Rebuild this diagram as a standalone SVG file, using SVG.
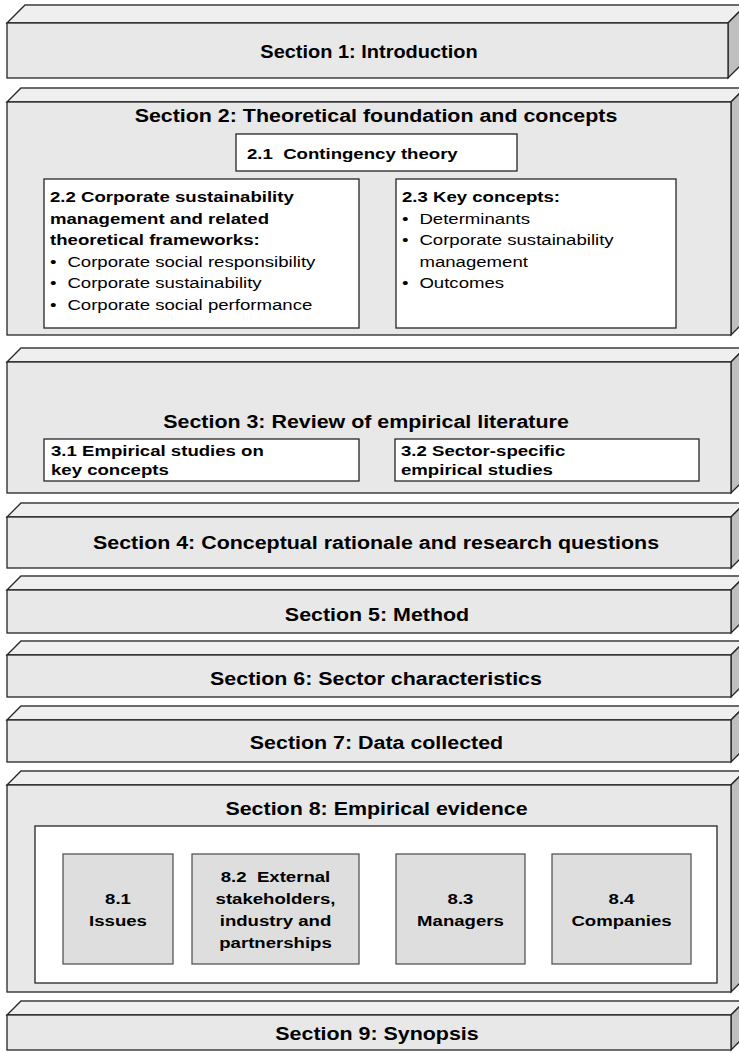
<svg xmlns="http://www.w3.org/2000/svg" width="739" height="1053" viewBox="0 0 739 1053">
<style>
.front{fill:#e8e8e8;stroke:#262626;stroke-width:1.3}
.top{fill:#efefef;stroke:#262626;stroke-width:1.3;stroke-linejoin:miter}
.side{fill:#bfbfbf;stroke:#262626;stroke-width:1.3}
.back{fill:none;stroke:#6a6a6a;stroke-width:2}
.wbox{fill:#ffffff;stroke:#262626;stroke-width:1.3}
.gbox{fill:#dedede;stroke:#4a4a4a;stroke-width:1.2}
text{font-family:"Liberation Sans",Arial,sans-serif;fill:#000}
.title{font-size:18px;font-weight:bold;text-anchor:middle}
.sub{font-size:15.5px;font-weight:bold}
.reg{font-size:15.5px;font-weight:normal}
.subc{font-size:15.5px;font-weight:bold;text-anchor:middle}
</style>
<rect width="739" height="1053" fill="#ffffff"/>

<g id="section1">
<polygon class="top" points="7,23 25,5 746,5 728,23"/>
<line class="back" x1="25" y1="5" x2="746" y2="5"/>
<polygon class="side" points="728,23 746,5 746,60 728,78"/>
<rect class="front" x="7" y="23" width="721" height="55"/>
<text class="title" transform="translate(369 57.5) scale(1.11 1)">Section 1: Introduction</text>
</g>

<g id="section2">
<polygon class="top" points="7,102 21,88 745,88 731,102"/>
<line class="back" x1="21" y1="88" x2="745" y2="88"/>
<polygon class="side" points="731,102 745,88 745,321 731,335"/>
<rect class="front" x="7" y="102" width="724" height="233"/>
<text class="title" transform="translate(376 121.5) scale(1.19 1)">Section 2: Theoretical foundation and concepts</text>
</g>

<g id="box2-1">
<rect class="wbox" x="236" y="134" width="281" height="37"/>
<text class="sub" transform="translate(247 158.5) scale(1.2 1)" xml:space="preserve">2.1  Contingency theory</text>
</g>

<g id="box2-2">
<rect class="wbox" x="44" y="179" width="315" height="149"/>
<g transform="translate(50 0)">
<text class="sub" transform="translate(0 202) scale(1.2 1)">2.2 Corporate sustainability</text>
<text class="sub" transform="translate(0 223.5) scale(1.2 1)">management and related</text>
<text class="sub" transform="translate(0 245) scale(1.2 1)">theoretical frameworks:</text>
<text class="reg" transform="translate(0 266.5) scale(1.2 1)"><tspan x="0">•</tspan><tspan x="14.5">Corporate social responsibility</tspan></text>
<text class="reg" transform="translate(0 288) scale(1.2 1)"><tspan x="0">•</tspan><tspan x="14.5">Corporate sustainability</tspan></text>
<text class="reg" transform="translate(0 309.5) scale(1.2 1)"><tspan x="0">•</tspan><tspan x="14.5">Corporate social performance</tspan></text>
</g>
</g>

<g id="box2-3">
<rect class="wbox" x="396" y="179" width="280" height="149"/>
<g transform="translate(402 0)">
<text class="sub" transform="translate(0 202) scale(1.2 1)">2.3 Key concepts:</text>
<text class="reg" transform="translate(0 223.5) scale(1.2 1)"><tspan x="0">•</tspan><tspan x="14.5">Determinants</tspan></text>
<text class="reg" transform="translate(0 245) scale(1.2 1)"><tspan x="0">•</tspan><tspan x="14.5">Corporate sustainability</tspan></text>
<text class="reg" transform="translate(0 266.5) scale(1.2 1)"><tspan x="14.5">management</tspan></text>
<text class="reg" transform="translate(0 288) scale(1.2 1)"><tspan x="0">•</tspan><tspan x="14.5">Outcomes</tspan></text>
</g>
</g>

<g id="section3">
<polygon class="top" points="7,362 21,348 745,348 731,362"/>
<line class="back" x1="21" y1="348" x2="745" y2="348"/>
<polygon class="side" points="731,362 745,348 745,479 731,493"/>
<rect class="front" x="7" y="362" width="724" height="131"/>
<text class="title" transform="translate(366 427.5) scale(1.19 1)">Section 3: Review of empirical literature</text>
</g>

<g id="box3-1">
<rect class="wbox" x="44" y="439" width="315" height="42"/>
<text class="sub" transform="translate(51 455.5) scale(1.2 1)">3.1 Empirical studies on</text>
<text class="sub" transform="translate(51 474.5) scale(1.2 1)">key concepts</text>
</g>

<g id="box3-2">
<rect class="wbox" x="395" y="439" width="304" height="42"/>
<text class="sub" transform="translate(401 455.5) scale(1.2 1)">3.2 Sector-specific</text>
<text class="sub" transform="translate(401 474.5) scale(1.2 1)">empirical studies</text>
</g>

<g id="section4">
<polygon class="top" points="7,517 21,503 745,503 731,517"/>
<line class="back" x1="21" y1="503" x2="745" y2="503"/>
<polygon class="side" points="731,517 745,503 745,554 731,568"/>
<rect class="front" x="7" y="517" width="724" height="51"/>
<text class="title" transform="translate(376 549) scale(1.19 1)">Section 4: Conceptual rationale and research questions</text>
</g>

<g id="section5">
<polygon class="top" points="7,590 21,576 745,576 731,590"/>
<line class="back" x1="21" y1="576" x2="745" y2="576"/>
<polygon class="side" points="731,590 745,576 745,619 731,633"/>
<rect class="front" x="7" y="590" width="724" height="43"/>
<text class="title" transform="translate(377 620.5) scale(1.19 1)">Section 5: Method</text>
</g>

<g id="section6">
<polygon class="top" points="7,655 21,641 745,641 731,655"/>
<line class="back" x1="21" y1="641" x2="745" y2="641"/>
<polygon class="side" points="731,655 745,641 745,683 731,697"/>
<rect class="front" x="7" y="655" width="724" height="42"/>
<text class="title" transform="translate(376 685) scale(1.19 1)">Section 6: Sector characteristics</text>
</g>

<g id="section7">
<polygon class="top" points="7,720 21,706 745,706 731,720"/>
<line class="back" x1="21" y1="706" x2="745" y2="706"/>
<polygon class="side" points="731,720 745,706 745,748 731,762"/>
<rect class="front" x="7" y="720" width="724" height="42"/>
<text class="title" transform="translate(376.5 749) scale(1.19 1)">Section 7: Data collected</text>
</g>

<g id="section8">
<polygon class="top" points="7,785 21,771 745,771 731,785"/>
<line class="back" x1="21" y1="771" x2="745" y2="771"/>
<polygon class="side" points="731,785 745,771 745,978 731,992"/>
<rect class="front" x="7" y="785" width="724" height="207"/>
<text class="title" transform="translate(376.5 815) scale(1.19 1)">Section 8: Empirical evidence</text>
<rect class="wbox" x="35" y="826" width="682" height="157"/>
</g>

<g id="box8-1">
<rect class="gbox" x="63" y="854" width="110" height="110"/>
<text class="subc" transform="translate(118 904) scale(1.2 1)">8.1</text>
<text class="subc" transform="translate(118 926) scale(1.2 1)">Issues</text>
</g>

<g id="box8-2">
<rect class="gbox" x="192" y="854" width="167" height="110"/>
<text class="subc" transform="translate(275.5 882) scale(1.2 1)" xml:space="preserve">8.2  External</text>
<text class="subc" transform="translate(275.5 904) scale(1.2 1)">stakeholders,</text>
<text class="subc" transform="translate(275.5 926) scale(1.2 1)">industry and</text>
<text class="subc" transform="translate(275.5 948) scale(1.2 1)">partnerships</text>
</g>

<g id="box8-3">
<rect class="gbox" x="396" y="854" width="129" height="110"/>
<text class="subc" transform="translate(460.5 904) scale(1.2 1)">8.3</text>
<text class="subc" transform="translate(460.5 926) scale(1.2 1)">Managers</text>
</g>

<g id="box8-4">
<rect class="gbox" x="552" y="854" width="139" height="110"/>
<text class="subc" transform="translate(621.5 904) scale(1.2 1)">8.4</text>
<text class="subc" transform="translate(621.5 926) scale(1.2 1)">Companies</text>
</g>

<g id="section9">
<polygon class="top" points="7,1015 21,1001 745,1001 731,1015"/>
<line class="back" x1="21" y1="1001" x2="745" y2="1001"/>
<polygon class="side" points="731,1015 745,1001 745,1036 731,1050"/>
<rect class="front" x="7" y="1015" width="724" height="35"/>
<text class="title" transform="translate(377 1040) scale(1.19 1)">Section 9: Synopsis</text>
</g>

<g id="connectors"></g>
</svg>
